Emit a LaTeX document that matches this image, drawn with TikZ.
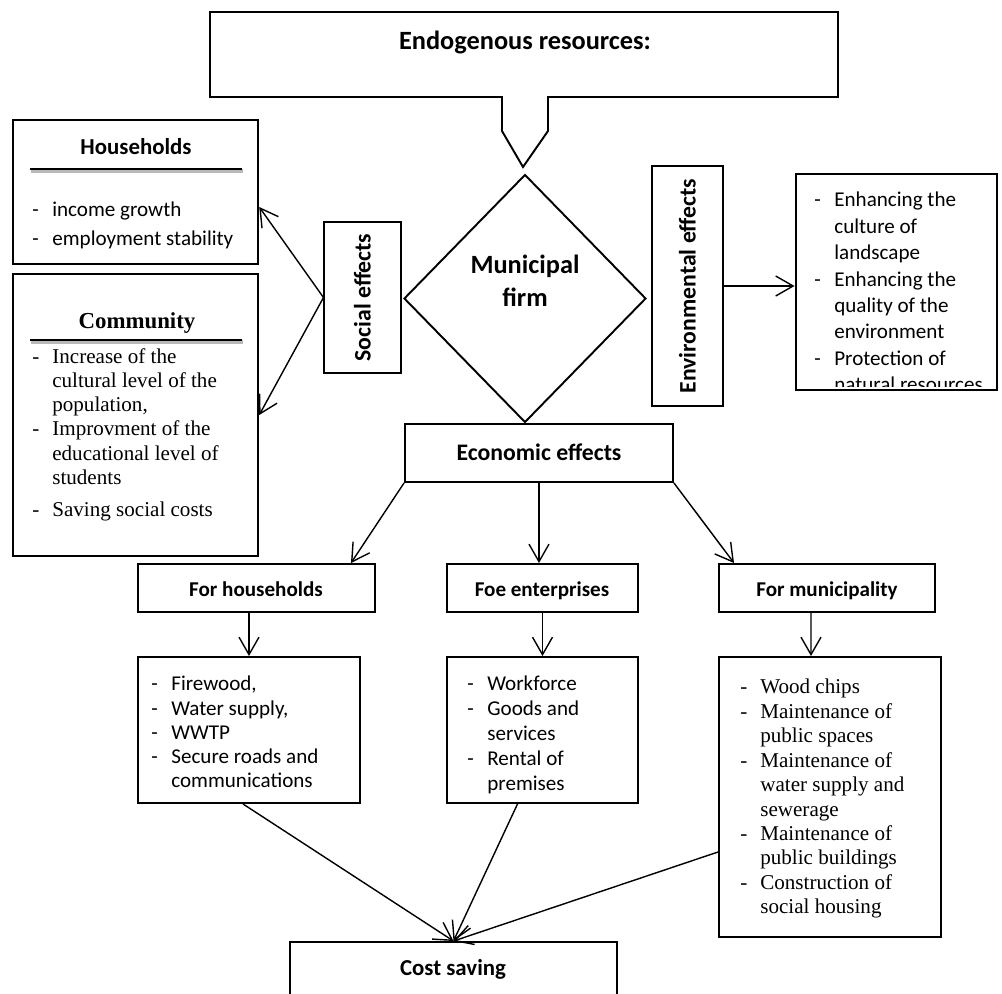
\documentclass[tikz,border=0pt]{standalone}
\usepackage{fontspec}
\setmainfont{Carlito}
\newfontfamily\tms{Liberation Serif}
\usetikzlibrary{arrows.meta,positioning,calc,fit,shapes.geometric}

\tikzset{
  box/.style={draw,line width=1.1pt,inner sep=0pt},
  thinbox/.style={draw,line width=0.6pt,inner sep=0pt},
  arr/.style={-{Straight Barb[length=3.5mm,width=4mm]},line width=0.8pt},
  hd/.style={font=\bfseries\fontsize{12}{14}\selectfont,anchor=base},
  lst/.style={anchor=north west,align=left,inner sep=0pt},
}
\newcommand{\itm}{\makebox[0.4cm][l]{-}}
\newcommand{\cnt}{\hspace*{0.4cm}}

\begin{document}
\begin{tikzpicture}[x=0.02cm,y=-0.02cm]
  \clip (0,0) rectangle (1002,994);

  % top callout
  \draw[line width=1.1pt] (210,12) -- (838,12) -- (838,97) -- (548,97) -- (548,131)
    -- (523,167) -- (502,131) -- (502,97) -- (210,97) -- cycle;
  \node[font=\bfseries\fontsize{15}{18}\selectfont] (endo) at (525,42) {Endogenous resources:};

  % firm
  \node[draw,diamond,line width=1.1pt,minimum width=4.84cm,minimum height=4.96cm,inner sep=0pt] (firm) at (525,298.5) {};
  \node[align=center,font=\bfseries\fontsize{15}{18.7}\selectfont] (firmtxt) at (525,281) {Municipal\\firm};

  % social side
  \node[box,line width=1.4pt,fit={(13,120)(258,264)}] (hh) {};
  \node[font=\bfseries\fontsize{13}{15}\selectfont] (hhhead) at (136,147) {Households};
  \draw[line width=2.2pt,gray!55] (31,171) -- (243,171);
  \draw[line width=1.6pt] (30,169) -- (242,169);
  \node[lst,font=\fontsize{12}{16}\selectfont] (hhtxt) at (32,202) {\itm income growth\\ \itm employment stability};

  \node[box,line width=1.4pt,fit={(13,274)(258,556)}] (com) {};
  \node[font=\tms\bfseries\fontsize{13}{15}\selectfont] (comhead) at (137,323) {Community};
  \draw[line width=2.2pt,gray!55] (31,342) -- (243,342);
  \draw[line width=1.6pt] (30,340) -- (242,340);
  \node[lst,font=\tms\fontsize{12}{13.8}\selectfont] (comtxt) at (32,348)
    {\itm Increase of the\\ \cnt cultural level of the\\ \cnt population,\\
     \itm Improvment of the\\ \cnt educational level of\\ \cnt students\\[4.5pt]
     \itm Saving social costs};

  \node[thinbox,fit={(324,222)(401,373)}] (social) {};
  \node[rotate=90,font=\bfseries\fontsize{13.5}{16}\selectfont] (soctxt) at (social.center) {Social effects};

  % environmental side
  \node[thinbox,fit={(652,166)(723,406)}] (envbox) {};
  \node[rotate=90,font=\bfseries\fontsize{13.5}{16}\selectfont] (envtxt) at (envbox.center) {Environmental effects};
  \node[box,line width=1.6pt,fit={(796,174)(997,390)}] (envlist) {};
  \begin{scope}
    \clip (800,176) rectangle (993,386);
    \node[lst,font=\fontsize{12}{15}\selectfont] (envitems) at (814,192)
      {\itm Enhancing the\\ \cnt culture of\\ \cnt landscape\\
       \itm Enhancing the\\ \cnt quality of the\\ \cnt environment\\
       \itm Protection of\\ \cnt natural resources};
  \end{scope}

  % economic part
  \node[box,fit={(405,424)(673,482)}] (econ) {};
  \node[font=\bfseries\fontsize{13.5}{16}\selectfont] (econtxt) at (539,452) {Economic effects};
  \node[box,fit={(138,564)(375,612)}] (hhbox) {};
  \node[hd] (hhboxtxt) at (256,596) {For households};
  \node[box,fit={(447,564)(638,612)}] (entbox) {};
  \node[hd] (entboxtxt) at (542,596) {Foe enterprises};
  \node[box,fit={(719,564)(935,612)}] (munbox) {};
  \node[hd] (munboxtxt) at (827,596) {For municipality};

  \node[box,fit={(138,657)(360,803)}] (hhitems) {};
  \node[lst,font=\fontsize{12}{13.8}\selectfont] (hhlist) at (151,676)
    {\itm Firewood,\\ \itm Water supply,\\ \itm WWTP\\ \itm Secure roads and\\ \cnt communications};
  \node[box,fit={(447,657)(638,803)}] (entitems) {};
  \node[lst,font=\fontsize{12}{14.2}\selectfont] (entlist) at (467,676)
    {\itm Workforce\\ \itm Goods and\\ \cnt services\\ \itm Rental of\\ \cnt premises};
  \node[box,fit={(719,657)(941,937)}] (munitems) {};
  \node[lst,font=\tms\fontsize{12}{13.9}\selectfont] (munlist) at (740,679)
    {\itm Wood chips\\ \itm Maintenance of\\ \cnt public spaces\\
     \itm Maintenance of\\ \cnt water supply and\\ \cnt sewerage\\
     \itm Maintenance of\\ \cnt public buildings\\ \itm Construction of\\ \cnt social housing};

  \node[box,fit={(290,942)(617,1000)}] (cost) {};
  \node[font=\bfseries\fontsize{13}{15}\selectfont] (costtxt) at (453,969) {Cost saving};

  % connectors
  \draw[arr] (social.west) -- ([yshift=-0.3cm]hh.east);
  \draw[arr] (social.west) -- (com.east);
  \draw[arr] (envbox.east) -- (envbox.east -| envlist.west);
  \draw[arr] (econ.south west) -- ([xshift=-0.5cm]hhbox.north east);
  \draw[arr] (econ.south) -- (econ.south |- entbox.north);
  \draw[arr] (econ.south east) -- ([xshift=0.32cm]munbox.north west);
  \draw[arr] (hhbox.south -| hhitems.north) -- (hhitems.north);
  \draw[arr] (entbox.south) -- (entitems.north);
  \draw[arr] ([xshift=-0.32cm]munbox.south) -- ([xshift=-0.38cm]munitems.north);
  \draw[arr] ([xshift=-0.12cm]hhitems.south) -- (cost.north);
  \draw[arr] ([xshift=-0.5cm]entitems.south) -- (cost.north);
  \draw[arr] ([yshift=-1.1cm]munitems.west) -- (cost.north);
\end{tikzpicture}
\end{document}
